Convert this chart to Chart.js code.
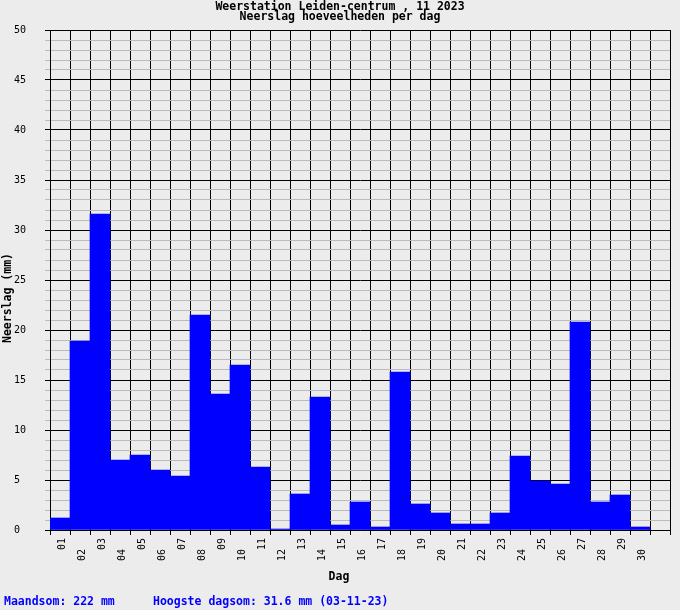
<!DOCTYPE html>
<html>
<head>
<meta charset="utf-8">
<script src="https://cdn.jsdelivr.net/npm/chart.js@4"></script>
<style>
  html, body { margin: 0; padding: 0; background: #ececec; }
  #wrap { width: 680px; height: 610px; }
</style>
</head>
<body>
<div id="wrap"><canvas id="grafiek" width="680" height="610"></canvas></div>
<script>
// dagen van november 2023 (laatste vak blijft leeg)
const dagen = ['01','02','03','04','05','06','07','08','09','10',
               '11','12','13','14','15','16','17','18','19','20',
               '21','22','23','24','25','26','27','28','29','30',''];
// neerslag per dag in mm
const neerslag = [1.2, 18.9, 31.6, 7.0, 7.5, 6.0, 5.4, 21.5, 13.6, 16.5,
                  6.3, 0.1, 3.6, 13.3, 0.5, 2.8, 0.3, 15.8, 2.6, 1.7,
                  0.6, 0.6, 1.7, 7.4, 4.9, 4.6, 20.8, 2.8, 3.5, 0.3];
const yMin = 0;
const yMax = 50;
const yLabelStap = 5;

const titel1 = 'Weerstation Leiden-centrum , 11 2023';
const titel2 = 'Neerslag hoeveelheden per dag';
const yTitel = 'Neerslag (mm)';
const xTitel = 'Dag';
const voet1 = 'Maandsom: 222 mm';
const voet2 = 'Hoogste dagsom: 31.6 mm (03-11-23)';

const mono = '"DejaVu Sans Mono", "Liberation Mono", monospace';

/*teksten en x-labels zelf tekenen*/
const tekstPlugin = {
  id: 'teksten',
  afterDraw(chart){
    const ctx = chart.ctx;
    const xs = chart.scales.x;
    ctx.save();
    // titels
    ctx.fillStyle = '#000';
    ctx.font = 'bold 11.5px ' + mono;
    ctx.textAlign = 'center';
    ctx.textBaseline = 'middle';
    ctx.fillText(titel1, 340, 7);
    ctx.fillText(titel2, 340, 17);
    ctx.fillText(xTitel, 339, 577);
    // y titel
    ctx.save();
    ctx.translate(8, 298);
    ctx.rotate(-Math.PI/2);
    ctx.fillText(yTitel, 0, 0);
    ctx.restore();
    // dag labels, om en om verspringend
    ctx.font = '10px ' + mono;
    ctx.textAlign = 'right';
    for(let i = 0; i < dagen.length; i++){
      if(!dagen[i]) continue;
      const x = xs.getPixelForValue(i) + 2.5;
      const y = (i % 2 === 0) ? 538 : 549;
      ctx.save();
      ctx.translate(x, y);
      ctx.rotate(-Math.PI/2);
      ctx.fillText(dagen[i], 0, 0);
      ctx.restore();
    }
    // voettekst
    ctx.fillStyle = '#0000ff';
    ctx.font = 'bold 11.5px ' + mono;
    ctx.textAlign = 'left';
    ctx.fillText(voet1, 4, 602);
    ctx.fillText(voet2, 153, 602);
    ctx.restore();
  }
};

var ctx = document.getElementById('grafiek').getContext('2d');
var chart = new Chart(ctx, {
  type: 'bar',
  data: {
    labels: dagen,
    datasets: [{
      label: 'Neerslag',
      data: neerslag,
      backgroundColor: '#0000ff',
      borderWidth: 0,
      barPercentage: 1,
      categoryPercentage: 1
    }]
  },
  options: {
    responsive: false,
    animation: false,
    devicePixelRatio: 1,
    layout: { padding: { top: 30, left: 14, right: 10, bottom: 0 } },
    plugins: {
      legend: { display: false },
      tooltip: { enabled: false },
      title: { display: false }
    },
    scales: {
      x: {
        offset: true,
        grid: { color: '#000', offset: true, tickLength: 5, lineWidth: 1 },
        border: { color: '#000' },
        ticks: { display: false },
        afterFit(scale){ scale.height = 80; }
      },
      y: {
        min: yMin,
        max: yMax,
        grid: {
          color: c => (c.tick && c.tick.value % yLabelStap === 0) ? '#000' : '#bbbbbb',
          tickLength: 5,
          lineWidth: 1
        },
        border: { color: '#000' },
        ticks: {
          stepSize: 1,
          maxTicksLimit: 60,
          autoSkip: false,
          crossAlign: 'far',
          color: '#000',
          font: { family: mono, size: 10 },
          callback: v => (v % yLabelStap === 0) ? v : ''
        },
        afterFit(scale){ scale.width = 36; }
      }
    }
  },
  plugins: [tekstPlugin]
});
</script>
</body>
</html>
